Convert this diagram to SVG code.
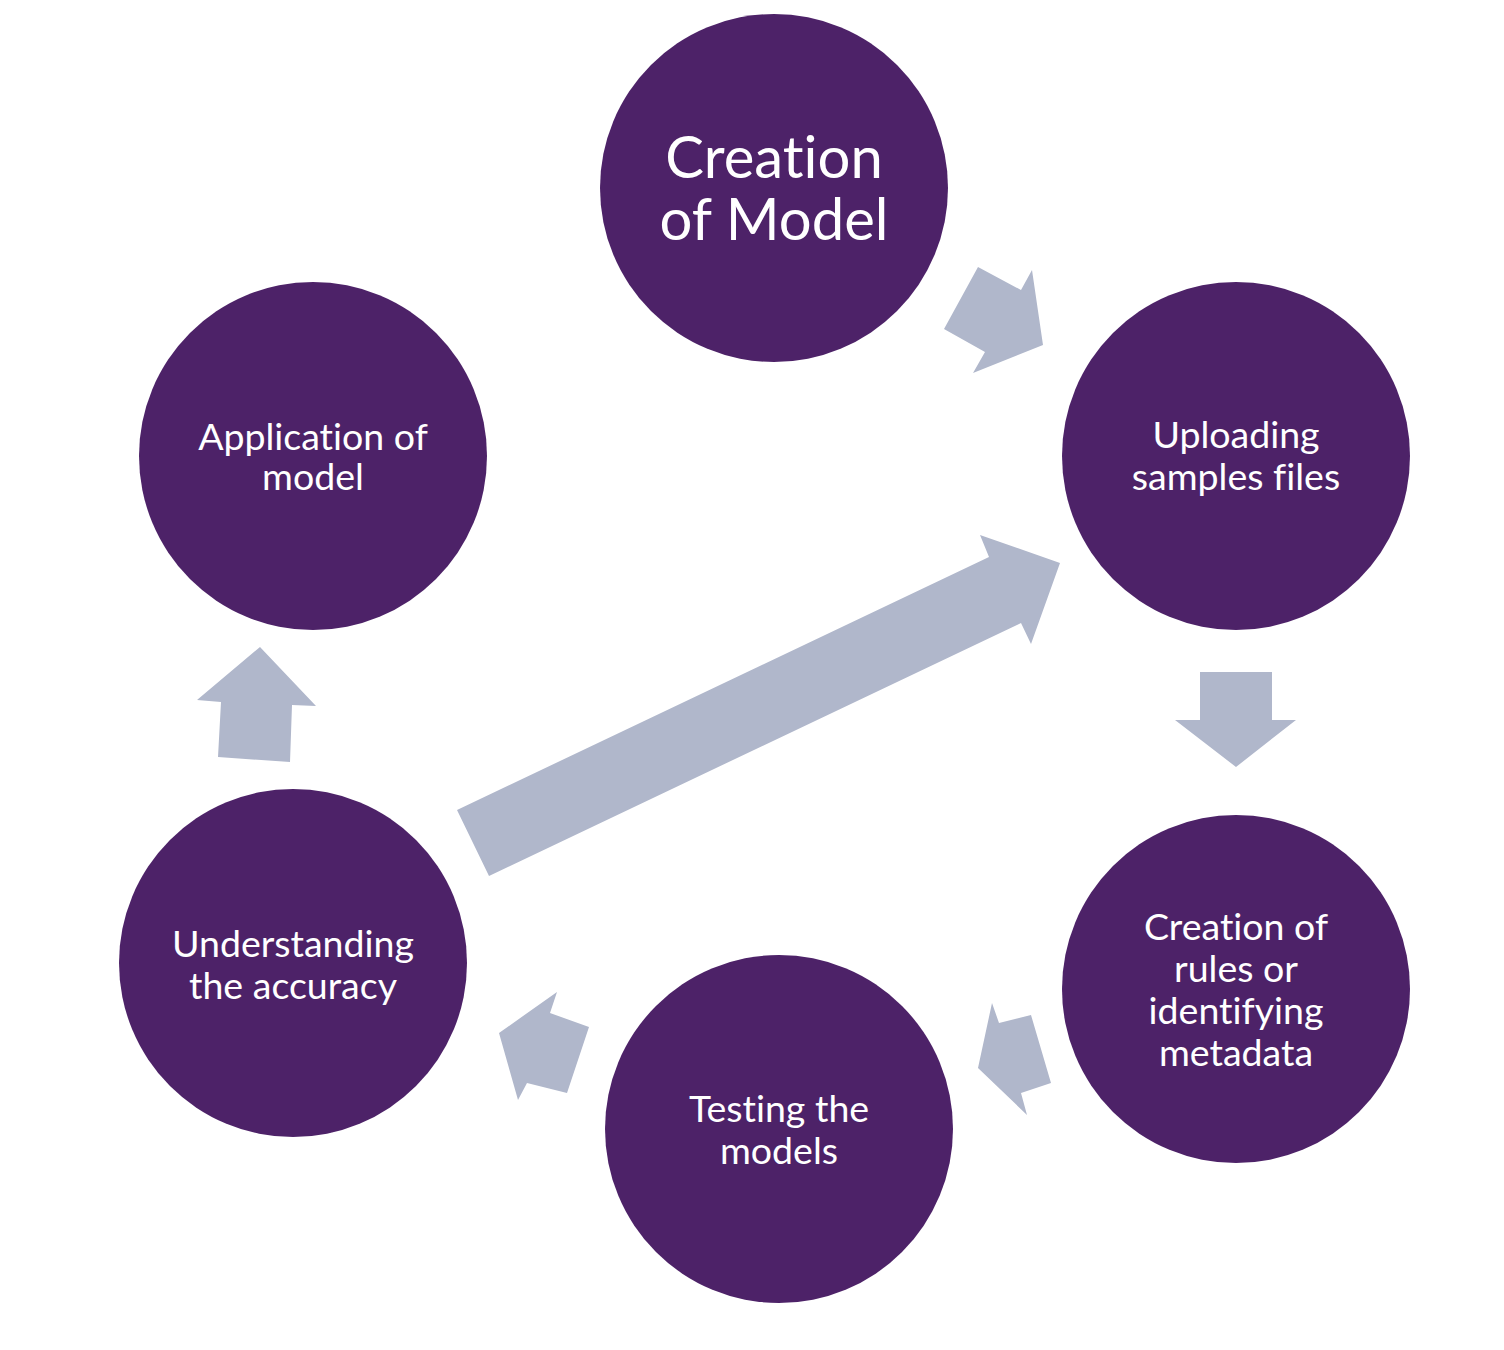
<svg xmlns="http://www.w3.org/2000/svg" width="1504" height="1350" viewBox="0 0 1504 1350">
<style>
.node circle{fill:#4d2268}
.node text{fill:#ffffff;font-family:Lato,"Open Sans","DejaVu Sans",sans-serif;font-size:37.5px;text-anchor:middle;font-variant-ligatures:none;font-feature-settings:"liga" 0,"dlig" 0}
.node text.big{font-size:58px}
.arrows polygon{fill:#b0b7cb}
</style>
<rect width="1504" height="1350" fill="#ffffff"/>
<g class="arrows" id="connectors">
<polygon points="978,267 1021,290 1032,270 1043,345 973,373 985,352 944,329"/>
<polygon points="1200,672 1272,672 1272,720 1296,720 1236,767 1175,720 1200,720"/>
<polygon points="992,1003 999,1023 1031,1015 1051,1083 1021,1093 1027,1115 978,1068"/>
<polygon points="557,992 550,1013 589,1027 567,1093 527,1083 518,1100 499,1033"/>
<polygon points="260,647 316,706 292,705 290,762 218,757 221,702 197,700"/>
<polygon points="457,810 989,557 980,535 1060,563 1031,644 1021,623 489,876"/>
</g>
<g class="node" id="creation-of-model">
<circle cx="774" cy="188" r="174"/>
<text class="big" x="774" y="178">Creation</text>
<text class="big" x="774" y="240">of Model</text>
</g>
<g class="node" id="uploading">
<circle cx="1236" cy="456" r="174"/>
<text x="1236" y="448">Uploading</text>
<text x="1236" y="490">samples files</text>
</g>
<g class="node" id="creation-of-rules">
<circle cx="1236" cy="989" r="174"/>
<text x="1236" y="940">Creation of</text>
<text x="1236" y="982">rules or</text>
<text x="1236" y="1024">identifying</text>
<text x="1236" y="1066">metadata</text>
</g>
<g class="node" id="testing">
<circle cx="779" cy="1129" r="174"/>
<text x="779" y="1122">Testing the</text>
<text x="779" y="1164">models</text>
</g>
<g class="node" id="understanding">
<circle cx="293" cy="963" r="174"/>
<text x="293" y="957">Understanding</text>
<text x="293" y="999">the accuracy</text>
</g>
<g class="node" id="application">
<circle cx="313" cy="456" r="174"/>
<text x="313" y="450">Application of</text>
<text x="313" y="490">model</text>
</g>
</svg>
